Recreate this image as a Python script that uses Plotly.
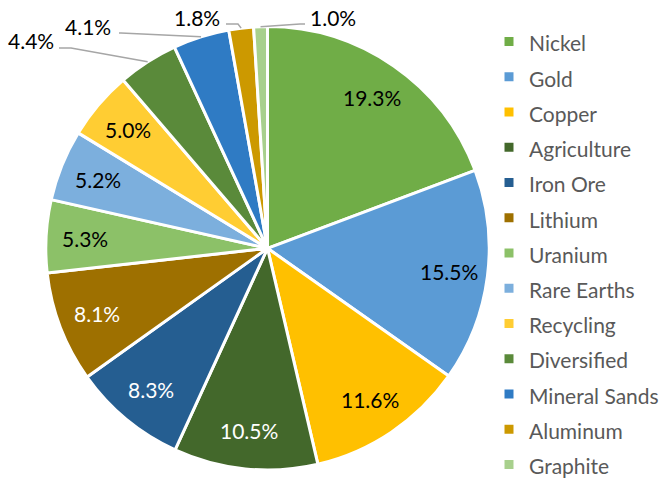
import math
import plotly.graph_objects as go

# ---- data ----
categories = ["Nickel", "Gold", "Copper", "Agriculture", "Iron Ore", "Lithium",
              "Uranium", "Rare Earths", "Recycling", "Diversified", "Mineral Sands",
              "Aluminum", "Graphite"]
shares = [19.3, 15.5, 11.6, 10.5, 8.3, 8.1, 5.3, 5.2, 5.0, 4.4, 4.1, 1.8, 1.0]

# ---- styles ----
colors = ["#70AD47", "#5B9BD5", "#FFC000", "#43682B", "#255E91", "#9E7000",
          "#8CC168", "#7CAFDD", "#FFCD33", "#5A8A3A", "#2F7BC4", "#CC9900", "#A8D08D"]
label_colors = ["#000000", "#000000", "#000000", "#FFFFFF", "#FFFFFF", "#FFFFFF",
                "#000000", "#000000", "#000000", "#000000", "#000000", "#000000", "#000000"]

W, H = 668, 479
CX, CY, R = 267.5, 248.3, 221.7      # pie centre/radius in pixels
FONT = "Lato"
FS = 21
INSIDE_FRAC = 0.825

# outside label layout (pixel positions of text, line attach and elbow)
outside = {
    "Diversified": dict(text=(31, 40), attach=(59, 48), elbow=(71, 48)),
    "Mineral Sands": dict(text=(88, 27), attach=(119, 33), elbow=(121, 33)),
    "Aluminum": dict(text=(197, 17), attach=(226, 24), elbow=(238, 24)),
    "Graphite": dict(text=(333, 17), attach=(305, 24), elbow=(300, 24)),
}


def px(x):
    return x / W


def py(y):
    return 1 - y / H


legend_labels = [f'<span style="font-size:{FS}px">{c}</span>' for c in categories]

fig = go.Figure(go.Pie(
    labels=legend_labels,
    values=shares,
    sort=False,
    direction="clockwise",
    rotation=0,
    marker=dict(colors=colors, line=dict(color="white", width=3)),
    textinfo="none",
    hoverinfo="skip",
    domain=dict(x=[px(CX - R), px(CX + R)], y=[py(CY + R), py(CY - R)]),
))

total = sum(shares)
cum = 0.0
annotations = []
shapes = []
for cat, v, tc in zip(categories, shares, label_colors):
    mid = (cum + v / 2) / total * 2 * math.pi
    cum += v
    txt = f"{v:.1f}%"
    if cat in outside:
        o = outside[cat]
        ex, ey = CX + R * math.sin(mid), CY - R * math.cos(mid)
        (ax, ay), (bx, by) = o["attach"], o["elbow"]
        shapes.append(dict(
            type="path", xref="paper", yref="paper",
            path=f"M{px(ax)},{py(ay)} L{px(bx)},{py(by)} L{px(ex)},{py(ey)}",
            line=dict(color="#A6A6A6", width=1.5),
        ))
        tx, ty = o["text"]
    else:
        tx = CX + INSIDE_FRAC * R * math.sin(mid)
        ty = CY - INSIDE_FRAC * R * math.cos(mid)
    annotations.append(dict(
        x=px(tx), y=py(ty), xref="paper", yref="paper",
        text=txt, showarrow=False, xanchor="center", yanchor="middle",
        borderpad=0,
        font=dict(family=FONT, size=FS, color=tc),
    ))

fig.update_layout(
    width=W, height=H,
    margin=dict(l=0, r=0, t=0, b=0, autoexpand=False),
    paper_bgcolor="white",
    plot_bgcolor="white",
    font=dict(family=FONT),
    annotations=annotations,
    shapes=shapes,
    showlegend=True,
    legend=dict(
        x=px(489), y=py(19), xanchor="left", yanchor="top",
        font=dict(family=FONT, size=24.8, color="#595959"),
        bgcolor="rgba(0,0,0,0)",
        borderwidth=0,
    ),
)

# remove the default 8px page margin so the figure fills the window exactly
fig.write_html("out.html", config={"displayModeBar": False},
               post_script="document.body.style.margin='0px';")
